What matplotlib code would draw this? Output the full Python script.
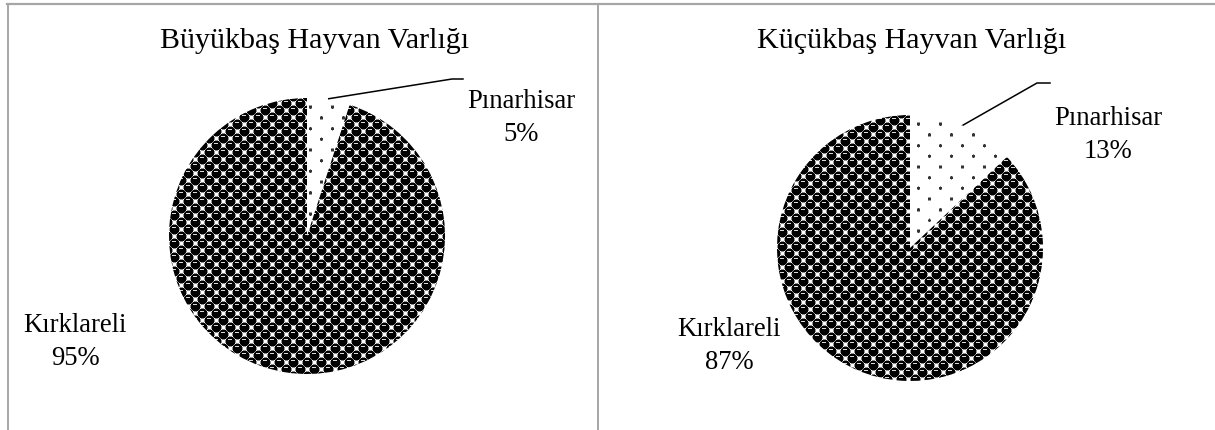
import numpy as np
import matplotlib
matplotlib.use("Agg")
import matplotlib.pyplot as plt
from matplotlib.lines import Line2D

# ---- data ----
titles = ["Büyükbaş Hayvan Varlığı", "Küçükbaş Hayvan Varlığı"]
categories = ["Pınarhisar", "Kırklareli"]
buyukbas = [5, 95]
kucukbas = [13, 87]
series = [buyukbas, kucukbas]

W, H = 1215, 430
plt.rcParams['font.family'] = ['Liberation Serif', 'DejaVu Serif']

fig = plt.figure(figsize=(W / 100, H / 100), dpi=100)
ax = fig.add_axes([0, 0, 1, 1])


def Y(p):
    return H - p


def sphere_texture(w, h):
    yy, xx = np.mgrid[0:h, 0:w].astype(float)
    s = 14.0
    img = np.ones((h, w))
    for ox, oy in [(0, 0), (s / 2, s / 2)]:
        gx = ((xx - ox + s / 2) % s) - s / 2
        gy = ((yy - oy + s / 2) % s) - s / 2
        d = np.hypot(gx, gy)
        img = np.where(d < 4.5, 0.0, img)
        img = np.where((d >= 4.5) & (d < 5.2), np.minimum(img, 0.55), img)
    for ox, oy in [(0, 0), (s / 2, s / 2)]:
        gx = ((xx - ox + s / 2) % s) - s / 2
        gy = ((yy - oy + s / 2) % s) - s / 2
        hl = (np.abs(gx + 0.5) < 1.6) & (np.abs(gy + 2.0) < 0.9)
        img = np.where(hl, 0.85, img)
    return img


def dot_texture(w, h):
    yy, xx = np.mgrid[0:h, 0:w].astype(float)
    img = np.ones((h, w))
    sx, sy = 22.0, 21.4
    for ox, oy in [(0, 0), (sx / 2, sy / 2)]:
        gx = ((xx - ox + sx / 2) % sx) - sx / 2
        gy = ((yy - oy + sy / 2) % sy) - sy / 2
        d = np.hypot(gx, gy)
        img = np.where(d < 1.4, 0.2, img)
        img = np.where((d >= 1.4) & (d < 2.0), np.minimum(img, 0.6), img)
    return img


pies = [
    dict(center=(307, 236), r=138, title_dx=8,
         lab_small=(521, 118), lab_big=(75, 342),
         knee=(452, 79), end=(463, 79)),
    dict(center=(910, 248), r=133, title_dx=2,
         lab_small=(1108, 135), lab_big=(729, 346),
         knee=(1037, 83), end=(1050, 83)),
]

for t, vals, p in zip(titles, series, pies):
    cx, cy = p['center']
    r = p['r']
    wedges, _ = ax.pie(vals, center=(cx, Y(cy)), radius=r, startangle=90,
                       counterclock=False,
                       wedgeprops=dict(linewidth=0, facecolor='none'))
    x0, x1 = cx - r - 2, cx + r + 2
    y0, y1 = Y(cy) - r - 2, Y(cy) + r + 2
    tw, th = int(x1 - x0), int(y1 - y0)
    textures = [dot_texture(tw, th), sphere_texture(tw, th)]
    for wdg, tex in zip(wedges, textures):
        im = ax.imshow(tex, cmap='gray', vmin=0, vmax=1, extent=(x0, x1, y0, y1),
                       origin='upper', interpolation='nearest', zorder=1)
        im.set_clip_path(wdg)

    total = sum(vals)
    small_lbl = f"{categories[0]}\n{round(100 * vals[0] / total)}%"
    big_lbl = f"{categories[1]}\n{round(100 * vals[1] / total)}%"
    ax.text(p['lab_small'][0], Y(p['lab_small'][1]), small_lbl, ha='center', va='center',
            fontsize=19.2, linespacing=1.42, color='black')
    ax.text(p['lab_big'][0], Y(p['lab_big'][1]), big_lbl, ha='center', va='center',
            fontsize=19.2, linespacing=1.42, color='black')

    mid = 360 * (vals[0] / 2) / total
    th_r = np.deg2rad(mid)
    sx = cx + (r + 1) * np.sin(th_r)
    sy = cy - (r + 1) * np.cos(th_r)
    ax.plot([sx, p['knee'][0], p['end'][0]], [Y(sy), Y(p['knee'][1]), Y(p['end'][1])],
            color='black', lw=1.1, zorder=3)

    ax.text(cx + p['title_dx'], Y(41), t, ha='center', va='center', fontsize=21.6,
            color='black')

# frame lines
ax.add_line(Line2D([7, W], [Y(4), Y(4)], color='#a6a6a6', lw=1.6))
ax.add_line(Line2D([8, 8], [Y(4), 0], color='#a6a6a6', lw=1.4))
ax.add_line(Line2D([598, 598], [Y(4), 0], color='#a6a6a6', lw=1.4))

ax.set_xlim(0, W)
ax.set_ylim(0, H)
ax.set_aspect('auto')
ax.axis('off')

fig.savefig('out.png', dpi=100)
